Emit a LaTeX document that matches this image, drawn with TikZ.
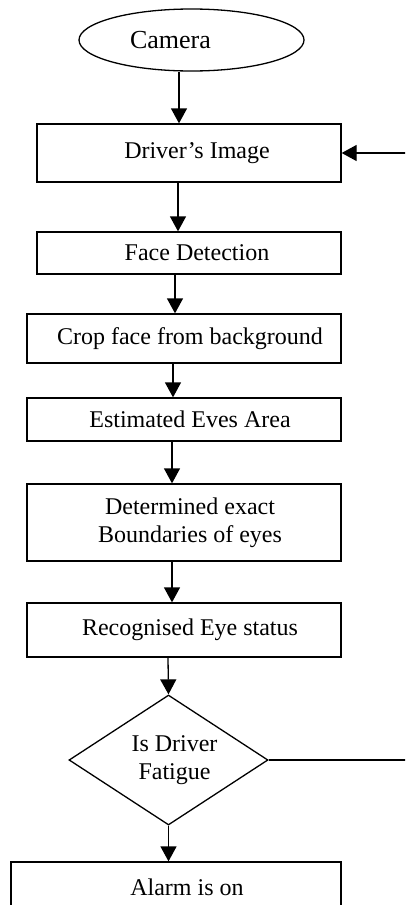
\documentclass[tikz,border=0pt]{standalone}
\usepackage{fontspec}
\setmainfont{Liberation Serif}
\usetikzlibrary{shapes.geometric,arrows.meta}
\begin{document}
\begin{tikzpicture}[x=1pt,y=-1pt,
  txt/.style={font=\fontsize{24}{28}\selectfont,align=center,inner sep=0pt},
  box/.style={txt,draw,line width=1.3pt,rectangle},
  arr/.style={line width=1.3pt,-{Triangle[width=16pt,length=15pt]}},
  ln/.style={line width=1.3pt}]
\useasboundingbox (0,0) rectangle (405,905);
\clip (0,0) rectangle (405,905);
\node[txt,draw,line width=1.3pt,ellipse,minimum width=225pt,minimum height=62pt,font=\fontsize{26}{30}\selectfont] (cam) at (191.5,40) {Camera\hspace*{42pt}};
\node[box,minimum width=304pt,minimum height=58pt] (img) at (189,153) {\hspace*{16pt}Driver’s Image};
\node[box,minimum width=304pt,minimum height=42pt] (face) at (189,253) {\hspace*{16pt}Face Detection};
\node[box,minimum width=314pt,minimum height=49pt] (crop) at (184,338.5) {\hspace*{12pt}Crop face from background};
\node[box,minimum width=314pt,minimum height=43pt] (est) at (184,419.5) {\hspace*{12pt}Estimated Eves Area};
\node[box,minimum width=314pt,minimum height=77pt] (det) at (184,522.5) {\hspace*{12pt}Determined exact\\\hspace*{12pt}Boundaries of eyes};
\node[box,minimum width=314pt,minimum height=54pt] (rec) at (184,630) {\hspace*{12pt}Recognised Eye status};
\node[txt,draw,line width=1.3pt,diamond,aspect=1.53,minimum width=199pt,minimum height=130pt] (dia) at (168.5,760) {\hspace*{12pt}Is Driver\\\hspace*{12pt}Fatigue};
\node[box,minimum width=330pt,minimum height=50pt] (alarm) at (176,887) {\hspace*{22pt}Alarm is on};
\coordinate (x1) at (179,0);
\coordinate (x2) at (178,0);
\coordinate (x3) at (175,0);
\coordinate (x4) at (173,0);
\coordinate (x5) at (172,0);
\coordinate (x6) at (168,0);
\coordinate (rt1) at (410,153);
\coordinate (rt2) at (410,760);
\draw[arr] (cam.south -| x1) -- (img.north -| x1);
\draw[arr] (img.south -| x2) -- (face.north -| x2);
\draw[arr] (face.south -| x3) -- (crop.north -| x3);
\draw[arr] (crop.south -| x4) -- (est.north -| x4);
\draw[arr] (est.south -| x5) -- (det.north -| x5);
\draw[arr] (det.south -| x5) -- (rec.north -| x5);
\draw[arr] (rec.south -| x6) -- (dia.north);
\draw[arr] (dia.south) -- (alarm.north -| dia.south);
\draw[ln] (dia.east) -- (rt2);
\draw[arr] (rt1) -- (img.east);
\end{tikzpicture}
\end{document}
